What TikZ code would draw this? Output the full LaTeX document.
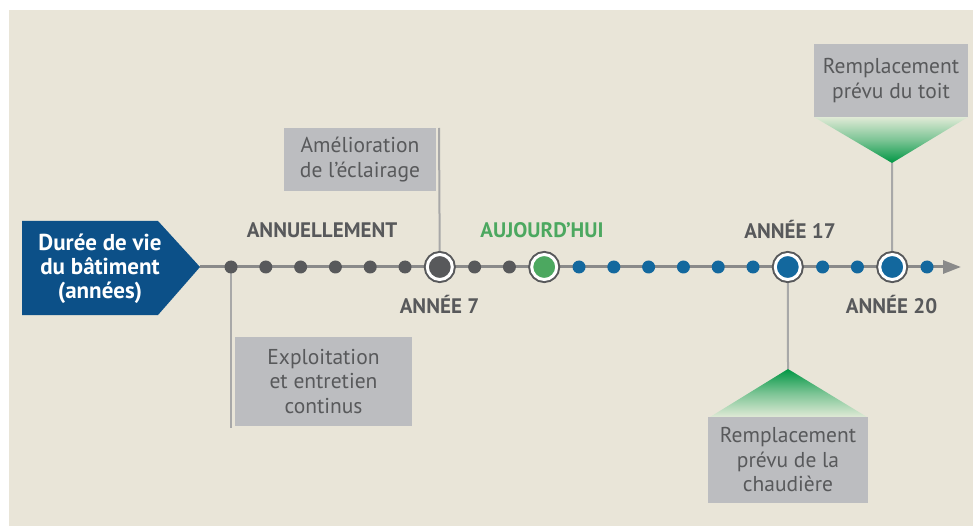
\documentclass[tikz,border=0pt]{standalone}
\usepackage{fontspec}
\setmainfont{PT Sans}
\usetikzlibrary{arrows.meta}
\definecolor{bg}{RGB}{233,229,216}
\definecolor{titleblue}{RGB}{12,80,136}
\definecolor{dotblue}{RGB}{19,104,158}
\definecolor{dotgray}{RGB}{88,89,91}
\definecolor{todaygreen}{RGB}{76,168,96}
\definecolor{linegray}{RGB}{138,138,138}
\definecolor{connectgray}{RGB}{168,168,168}
\definecolor{boxgray}{RGB}{188,189,192}
\definecolor{txtgray}{RGB}{88,89,91}
\definecolor{apexgreen}{RGB}{0,150,68}
\definecolor{fadegreen}{RGB}{224,234,214}
\begin{document}
\begin{tikzpicture}[x=1pt,y=-1pt,
  smalldot/.style={circle,inner sep=0pt,outer sep=0pt,minimum size=13pt},
  bigdot/.style={circle,inner sep=0pt,outer sep=0pt,minimum size=25pt,draw=white,line width=3pt,preaction={draw=dotgray,line width=7pt}},
  yearlabel/.style={font=\bfseries\fontsize{21}{23}\selectfont,text=txtgray,anchor=base,inner sep=0pt},
  infobox/.style={fill=boxgray,text=txtgray,align=center,inner sep=0pt,font=\fontsize{21.5}{24.5}\selectfont},
  connector/.style={draw=connectgray,line width=2pt},
  timeline/.style={draw=linegray,line width=3pt,-{Triangle[length=18pt,width=13pt]}},
]
\useasboundingbox (0,0) rectangle (973,526);
\fill[white] (0,0) rectangle (973,526);
\fill[bg] (9,10) rectangle (973,526);

% year positions
\foreach \n in {1,...,21}{
  \pgfmathsetmacro\xx{231+(\n-1)*34.8}
  \coordinate (p\n) at (\xx,267);
}
\coordinate (tip) at (200,267);
\coordinate (arrowend) at (961,267);
\coordinate (exbottom) at (231,428);
\coordinate (amtop) at (439,128);
\coordinate (apex17) at (788,369);
\coordinate (apex20) at (892,163);

% title pentagon
\fill[titleblue] (22,221) -- (158,221) -- (tip) -- (158,315) -- (22,315) -- cycle;
\node[text=white,font=\bfseries\fontsize{23}{24}\selectfont,align=center,inner sep=0pt] (title) at (100,269) {Durée de vie\\du bâtiment\\(années)};

% connectors
\draw[connector] (p1) -- (exbottom);
\draw[connector] (p7) -- (amtop);
\draw[connector] (p17) -- (apex17);
\draw[connector] (p20) -- (apex20);

% timeline
\draw[timeline] (tip) -- (arrowend);

% green triangles
\shade[top color=apexgreen,bottom color=fadegreen,middle color=apexgreen!45!fadegreen] (apex17) -- (710,417) -- (867,417) -- cycle;
\shade[top color=fadegreen,bottom color=apexgreen,middle color=apexgreen!45!fadegreen] (814,117) -- (968,117) -- (apex20) -- cycle;

% dots
\foreach \n in {1,2,3,4,5,6,8,9}{
  \node[smalldot,fill=dotgray] (d\n) at (p\n) {};
}
\foreach \n in {11,12,13,14,15,16,18,19,21}{
  \node[smalldot,fill=dotblue] (d\n) at (p\n) {};
}
\node[bigdot,fill=dotgray] (d7) at (p7) {};
\node[bigdot,fill=todaygreen] (d10) at (p10) {};
\node[bigdot,fill=dotblue] (d17) at (p17) {};
\node[bigdot,fill=dotblue] (d20) at (p20) {};

% labels
\node[yearlabel] (lannu) at (322,238) {ANNUELLEMENT};
\node[yearlabel,text=todaygreen] (lauj) at (542,238) {AUJOURD’HUI};
\node[yearlabel] (l17) at (790,239) {ANNÉE 17};
\node[yearlabel] (l7) at (439.5,313) {ANNÉE 7};
\node[yearlabel] (l20) at (891.5,313) {ANNÉE 20};

% boxes
\node[infobox,minimum width=152pt,minimum height=63pt] (amel) at (360,159.5) {Amélioration\\de l’éclairage};
\node[infobox,minimum width=177pt,minimum height=89pt] (expl) at (323.5,381.5) {Exploitation\\et entretien\\continus};
\node[infobox,minimum width=160pt,minimum height=86pt] (chaud) at (788,460) {Remplacement\\prévu de la\\chaudière};
\node[infobox,minimum width=154pt,minimum height=73pt] (toit) at (891,80.5) {Remplacement\\prévu du toit};
\end{tikzpicture}
\end{document}
